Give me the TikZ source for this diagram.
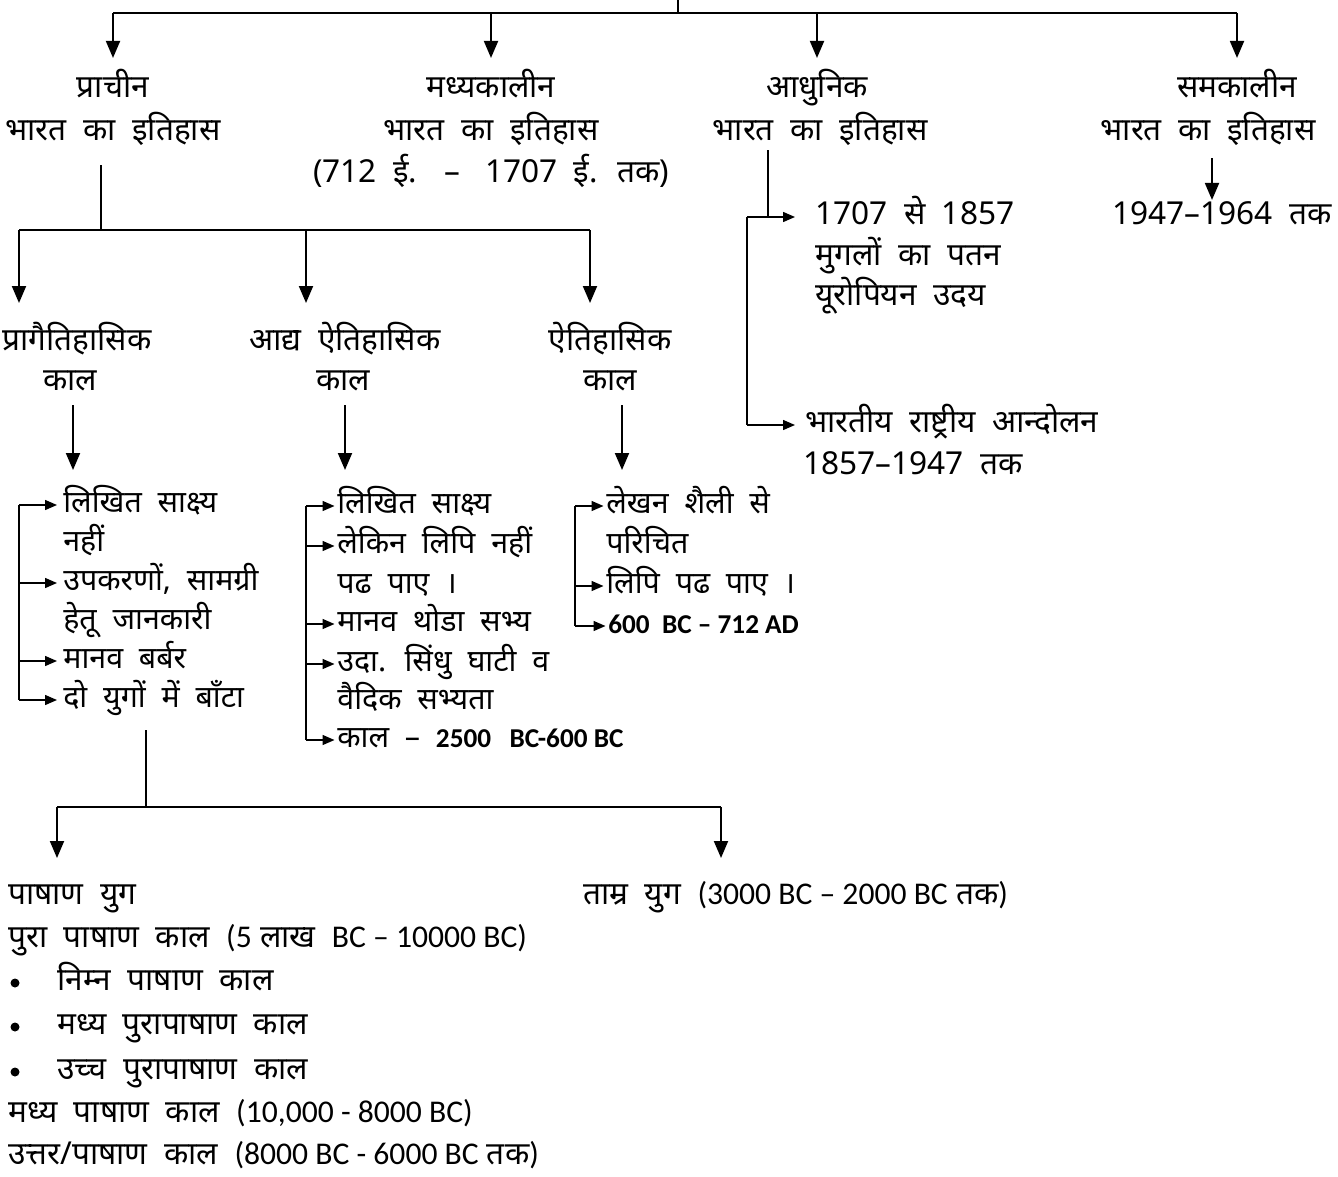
\documentclass[tikz,border=0pt]{standalone}
\usepackage{fontspec}
\setmainfont[Script=Devanagari]{Noto Sans}
\newfontfamily\calfont{Carlito}
\usetikzlibrary{arrows.meta}
\tikzset{
  lbl/.style={inner sep=0pt, font=\fontsize{18}{22}\selectfont, text height=14pt, text depth=5pt},
  itm/.style={lbl, anchor=west, font=\fontsize{17.3}{21}\selectfont},
  btm/.style={inner sep=0pt, anchor=west, font=\fontsize{18}{22}\selectfont, text height=14pt, text depth=5pt},
  conn/.style={line width=0.8pt},
  bigarrow/.style={line width=1.1pt, -{Triangle[length=0.34cm,width=0.28cm]}},
  sarrow/.style={line width=0.8pt, -{Triangle[length=0.24cm,width=0.2cm]}, shorten >=0.12cm},
}
\newcommand{\bld}{\calfont\bfseries\fontsize{15.5}{19}\selectfont}
\begin{document}
\begin{tikzpicture}[x=0.02cm,y=-0.02cm]
\useasboundingbox (0,0) rectangle (1338,1176);
% top level
\node[lbl] (h1) at (113,90) {प्राचीन};
\node[lbl] (h1b) at (113,133) {भारत \ का \ इतिहास};
\node[lbl] (h2) at (491,90) {मध्यकालीन};
\node[lbl] (h2b) at (491,133) {भारत \ का \ इतिहास};
\node[lbl] (h2c) at (491,175) {(712 \ ई. \ \ – \ \ 1707 \ ई. \ तक)};
\node[lbl] (h3) at (817,90) {आधुनिक};
\node[lbl] (h3b) at (820,133) {भारत \ का \ इतिहास};
\node[lbl] (h4) at (1237,90) {समकालीन};
\node[lbl] (h4b) at (1208,133) {भारत \ का \ इतिहास};
\coordinate (top) at (678,0);
\coordinate (bar) at (678,13);
\draw[conn] (top) -- (bar);
\draw[conn] (bar -| h1) -- (bar -| h4);
\foreach \n in {h1,h2,h3,h4}
  \draw[bigarrow, shorten >=0.3cm] (bar -| \n) -- (\n.north);

% samakalin
\node[lbl] (c1) at (1222,217) {1947–1964 \ तक};
\draw[bigarrow] (1212,158) coordinate (c0) -- (c0 |- c1.north);

% adhunik
\node[lbl, anchor=west] (m1) at (815,217) {1707 \ से \ 1857};
\node[lbl, anchor=west] (m2) at (815,258) {मुगलों \ का \ पतन};
\node[lbl, anchor=west] (m3) at (815,298) {यूरोपियन \ उदय};
\node[lbl, anchor=west] (m4) at (805,425) {भारतीय \ राष्ट्रीय \ आन्दोलन};
\node[lbl, anchor=west] (m5) at (803,467) {1857–1947 \ तक};
\coordinate (mv) at (768,150);
\coordinate (mb) at (747,0);
\draw[conn] (mv) -- (mv |- m1.west);
\draw[conn] (m1.west -| mb) -- (m4.west -| mb);
\draw[sarrow, shorten >=0.4cm] (m1.west -| mb) -- (m1.west);
\draw[sarrow, shorten >=0.2cm] (m4.west -| mb) -- (m4.west);

% prachin
\node[lbl] (s1) at (77,343) {प्रागैतिहासिक};
\node[lbl] (s1b) at (70,383) {काल};
\node[lbl] (s2) at (345,343) {आद्य \ ऐतिहासिक};
\node[lbl] (s2b) at (343,383) {काल};
\node[lbl] (s3) at (610,343) {ऐतिहासिक};
\node[lbl] (s3b) at (610,383) {काल};
\coordinate (p0) at (101,165);
\coordinate (p1) at (101,230);
\coordinate (pl) at (19,230);
\coordinate (pr) at (590,230);
\draw[conn] (p0) -- (p1);
\draw[conn] (pl) -- (pr);
\draw[bigarrow] (pl) -- ++(0,73);
\draw[bigarrow] (306,230) -- ++(0,73);
\draw[bigarrow] (pr) -- ++(0,73);
\draw[bigarrow] (73,405) -- (73,470);
\draw[bigarrow] (345,405) -- (345,470);
\draw[bigarrow] (622,405) -- (622,470);

% column 1
\node[itm] (a1) at (63,505) {लिखित \ साक्ष्य};
\node[itm] (a2) at (63,544) {नहीं};
\node[itm] (a3) at (63,583) {उपकरणों, \ सामग्री};
\node[itm] (a4) at (63,622) {हेतू \ जानकारी};
\node[itm] (a5) at (63,661) {मानव \ बर्बर};
\node[itm] (a6) at (63,700) {दो \ युगों \ में \ बाँटा};
\coordinate (ka) at (19,0);
\draw[conn] (a1.west -| ka) -- (a6.west -| ka);
\foreach \n in {a1,a3,a5,a6}
  \draw[sarrow] (\n.west -| ka) -- (\n.west);

% column 2
\node[itm] (e1) at (337,506) {लिखित \ साक्ष्य};
\node[itm] (e2) at (337,546) {लेकिन \ लिपि \ नहीं};
\node[itm] (e3) at (337,586) {पढ \ पाए \ ।};
\node[itm] (e4) at (337,624) {मानव \ थोडा \ सभ्य};
\node[itm] (e5) at (337,664) {उदा. \ सिंधु \ घाटी \ व};
\node[itm] (e6) at (337,702) {वैदिक \ सभ्यता};
\node[itm] (e7) at (337,740) {काल \ – \ {\bld 2500 \ \ BC-600 BC}};
\coordinate (kb) at (306,0);
\draw[conn] (e1.west -| kb) -- (e7.west -| kb);
\foreach \n in {e1,e2,e4,e5,e7}
  \draw[sarrow, shorten >=0.05cm] (\n.west -| kb) -- (\n.west);

% column 3
\node[itm] (g1) at (606,506) {लेखन \ शैली \ से};
\node[itm] (g2) at (606,546) {परिचित};
\node[itm] (g3) at (606,586) {लिपि \ पढ \ पाए \ ।};
\node[itm] (g4) at (608,626) {\bld 600 \ BC – 712 AD};
\coordinate (kc) at (575,0);
\draw[conn] (g1.west -| kc) -- (g4.west -| kc);
\foreach \n in {g1,g3,g4}
  \draw[sarrow, shorten >=0.05cm] (\n.west -| kc) -- (\n.west);

% yug
\coordinate (d0) at (146,730);
\coordinate (d1) at (146,807);
\coordinate (dl) at (57,807);
\coordinate (dr) at (721,807);
\draw[conn] (d0) -- (d1);
\draw[conn] (dl) -- (dr);
\draw[bigarrow] (dl) -- ++(0,51);
\draw[bigarrow] (dr) -- ++(0,51);
\node[btm] (b1) at (8,897) {पाषाण \ युग};
\node[btm] (b2) at (583,897) {ताम्र \ युग \ {\calfont (3000 BC – 2000 BC} तक{\calfont )}};
\node[btm] (b3) at (8,940) {पुरा \ पाषाण \ काल \ {\calfont (5} लाख \ {\calfont BC – 10000 BC)}};
\node[btm] (b4) at (57,983) {निम्न \ पाषाण \ काल};
\node[btm] (b5) at (57,1027) {मध्य \ पुरापाषाण \ काल};
\node[btm] (b6) at (57,1072) {उच्च \ पुरापाषाण \ काल};
\node[btm] (b7) at (8,1115) {मध्य \ पाषाण \ काल \ {\calfont (10,000 - 8000 BC)}};
\node[btm] (b8) at (8,1157) {उत्तर/पाषाण \ काल \ {\calfont (8000 BC - 6000 BC} तक{\calfont )}};
\foreach \n in {b4,b5,b6}
  \fill ([xshift=-0.84cm]\n.west) circle[radius=0.09cm];
\end{tikzpicture}
\end{document}
